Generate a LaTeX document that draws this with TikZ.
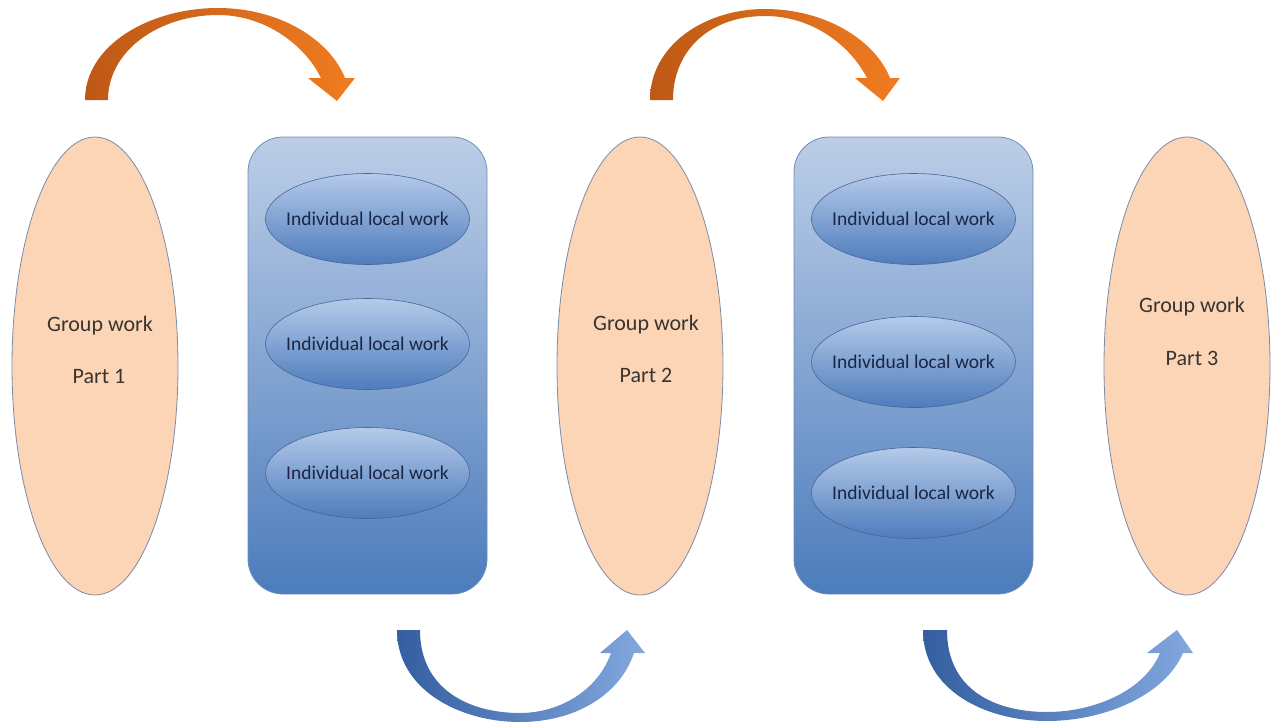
\documentclass[tikz,border=0pt]{standalone}
\usepackage{fontspec}
\setmainfont{Carlito}
\usetikzlibrary{shapes.geometric}

\definecolor{peach}{RGB}{251,213,181}
\definecolor{peachline}{RGB}{125,138,168}
\definecolor{boxtop}{RGB}{188,206,231}
\definecolor{boxbot}{RGB}{76,124,188}
\definecolor{boxline}{RGB}{110,140,185}
\definecolor{ovaltop}{RGB}{180,202,233}
\definecolor{ovalbot}{RGB}{78,124,188}
\definecolor{ovalline}{RGB}{72,102,150}
\definecolor{or1}{RGB}{190,88,22}
\definecolor{or2}{RGB}{240,124,32}
\definecolor{bl1}{RGB}{52,94,160}
\definecolor{bl2}{RGB}{130,168,222}
\definecolor{txtgray}{RGB}{58,52,48}
\definecolor{txtnavy}{RGB}{28,38,66}

\begin{document}
\begin{tikzpicture}[x=1pt,y=-1pt,
    groupblob/.style={ellipse,draw=peachline,fill=peach,line width=0.8pt,
      minimum width=166pt,minimum height=458pt,inner sep=0pt},
    grouplabel/.style={anchor=base,text=txtgray,inner sep=0pt,
      font=\fontsize{22}{26}\selectfont},
    localbox/.style={draw=boxline,line width=0.8pt,rounded corners=35pt,
      top color=boxtop,bottom color=boxbot,
      minimum width=239pt,minimum height=457pt,inner sep=0pt},
    localoval/.style={ellipse,draw=ovalline,line width=0.6pt,
      top color=ovaltop,bottom color=ovalbot,
      minimum width=204pt,minimum height=91pt,inner xsep=-30pt,inner ysep=0pt,
      text=txtnavy,font=\fontsize{19.5}{23}\selectfont}]

      \useasboundingbox (0,0) rectangle (1278,726);

      % group work parts
      \node[groupblob] (grp1) at (95,366) {};
      \node[groupblob] (grp2) at (640,366) {};
      \node[groupblob] (grp3) at (1187,366) {};

      \node[grouplabel] (grp1top) at (100,331) {Group work};
      \node[grouplabel] (grp1bot) at (99,383) {Part 1};
      \node[grouplabel] (grp2top) at (646,330) {Group work};
      \node[grouplabel] (grp2bot) at (646,382) {Part 2};
      \node[grouplabel] (grp3top) at (1192,312) {Group work};
      \node[grouplabel] (grp3bot) at (1192,365) {Part 3};

      % individual work boxes
      \node[localbox] (box1) at (367.5,365.5) {};
      \node[localbox] (box2) at (913.5,365.5) {};

      \node[localoval] (loc11) at (367.5,219) {Individual local work};
      \node[localoval] (loc12) at (367.5,344) {Individual local work};
      \node[localoval] (loc13) at (367.5,473) {Individual local work};

      \node[localoval] (loc21) at (913.5,219) {Individual local work};
      \node[localoval] (loc22) at (913.5,362) {Individual local work};
      \node[localoval] (loc23) at (913.5,493) {Individual local work};

      % curved arrows over the top
      \shade[left color=or1,right color=or2] (85,100) .. controls (85,45) and (150,8) .. (218,8)
        .. controls (280,8) and (330,40) .. (345,78) -- (355,78) -- (337,101) -- (308,78) -- (321,78)
        .. controls (305,45) and (265,15) .. (218,15)
        .. controls (160,15) and (108,50) .. (108,100) -- cycle;

      \shade[left color=or1,right color=or2] (650,100) .. controls (650,45) and (705,9) .. (765,9)
        .. controls (825,9) and (875,40) .. (890,78) -- (900,78) -- (883,101) -- (855,78) -- (867,78)
        .. controls (850,45) and (812,16) .. (765,16)
        .. controls (710,16) and (673,50) .. (673,100) -- cycle;

      % curved arrows underneath
      \shade[left color=bl1,right color=bl2] (397,630) .. controls (397,690) and (460,722) .. (520,722)
        .. controls (575,722) and (620,695) .. (634,653) -- (645,653) -- (627,630) -- (600,653) -- (611,653)
        .. controls (598,690) and (560,713) .. (520,713)
        .. controls (470,713) and (420,690) .. (420,630) -- cycle;

      \shade[left color=bl1,right color=bl2] (923,630) .. controls (923,690) and (985,721) .. (1047,721)
        .. controls (1105,721) and (1165,695) .. (1183,653) -- (1193,653) -- (1177,630) -- (1147,653) -- (1160,653)
        .. controls (1145,690) and (1095,712) .. (1047,712)
        .. controls (995,712) and (947,690) .. (947,630) -- cycle;

    \end{tikzpicture}
\end{document}
